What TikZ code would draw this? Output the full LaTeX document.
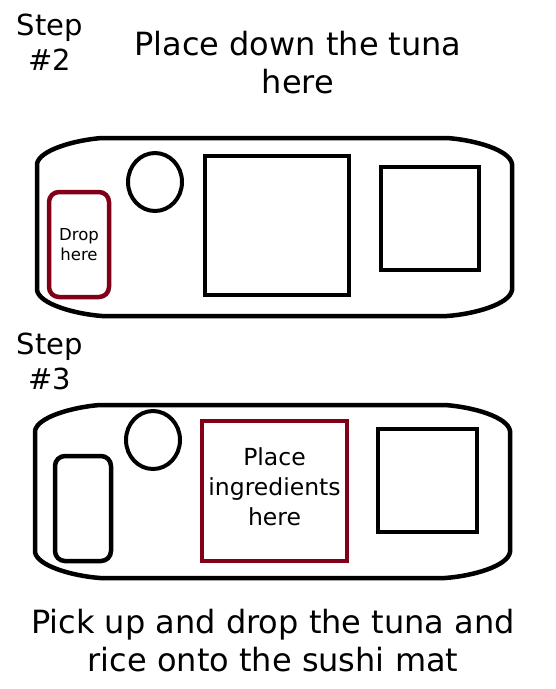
\documentclass[tikz,border=0pt]{standalone}
\usepackage{fontspec}
\setmainfont{DejaVu Sans}
\usetikzlibrary{shapes.geometric}
\definecolor{dropred}{RGB}{128,0,24}

\begin{document}
\begin{tikzpicture}
		[x=1pt, y=-1pt,
		 tray/.style={draw=black, line width=4.5pt},
		 box/.style={rectangle, draw=black, line width=4.5pt, inner sep=0pt},
		 bowl/.style={ellipse, draw=black, line width=4pt, inner sep=0pt,
			minimum width=54pt, minimum height=58pt},
		 label/.style={align=center, inner sep=0pt}]
		\useasboundingbox (0,0) rectangle (556,689);

		% step 2
		\node[label, font=\fontsize{29}{35}\selectfont] (step2) at (50,42) {Step\\\#2};
		\node[label, font=\fontsize{32}{38}\selectfont] (title) at (298,63) {Place down the tuna\\here};
		\draw[tray] (102,138) -- (447,138)
			.. controls (475,140) and (510,150) .. (512,164) -- (512,290)
			.. controls (510,304) and (475,314) .. (447,316) -- (102,316)
			.. controls (75,314) and (39,304) .. (37,290) -- (37,164)
			.. controls (39,150) and (75,140) .. cycle;
		\node[box, draw=dropred, rounded corners=10pt, minimum width=60pt, minimum height=105pt,
			align=center, font=\fontsize{16.5}{20}\selectfont] (drop) at (79,244.5) {Drop\\here};
		\node[bowl] (bowl2) at (155,182) {};
		\node[box, minimum width=144pt, minimum height=139pt] (mat2) at (277,225.5) {};
		\node[box, minimum width=98pt, minimum height=103pt] (side2) at (430,218.5) {};

		% step 3
		\node[label, font=\fontsize{29}{35}\selectfont] (step3) at (50,361) {Step\\\#3};
		\draw[tray] (100,405) -- (445,405)
			.. controls (473,407) and (508,417) .. (510,431) -- (510,552)
			.. controls (508,566) and (473,576) .. (445,578) -- (100,578)
			.. controls (73,576) and (37,566) .. (35,552) -- (35,431)
			.. controls (37,417) and (73,407) .. cycle;
		\node[box, rounded corners=10pt, minimum width=56pt, minimum height=105pt] (tuna3) at (83,508.5) {};
		\node[bowl] (bowl3) at (153,440) {};
		\node[box, draw=dropred, minimum width=145pt, minimum height=140pt] (mat3) at (274.5,491) {};
		\node[label, font=\fontsize{23.5}{30}\selectfont] (mat3text) at ([yshift=4pt]mat3.center)
			{Place\\ingredients\\here};
		\node[box, minimum width=99pt, minimum height=103pt] (side3) at (427.5,480.5) {};

		\node[label, font=\fontsize{32}{38}\selectfont] (caption) at (273,641)
			{Pick up and drop the tuna and\\rice onto the sushi mat};
	\end{tikzpicture}
\end{document}
